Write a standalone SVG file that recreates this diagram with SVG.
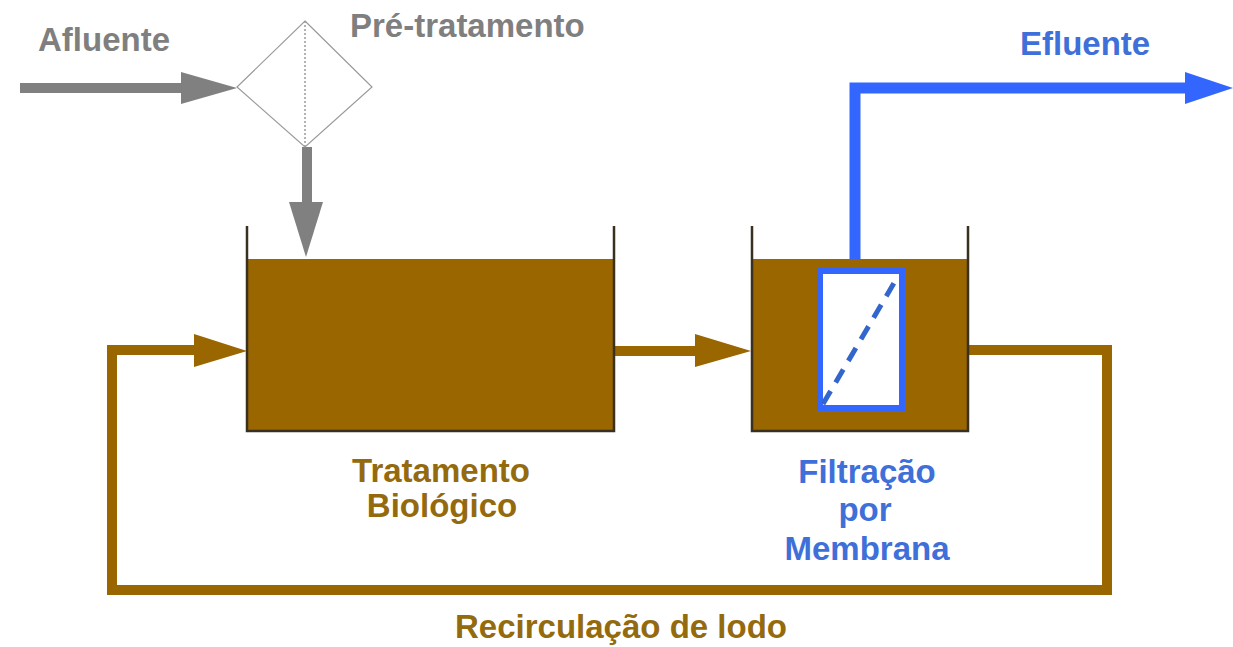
<svg xmlns="http://www.w3.org/2000/svg" width="1233" height="647" viewBox="0 0 1233 647">
<style>
.t{font-family:"Liberation Sans",Arial,sans-serif;font-weight:bold;font-size:33px}
.gray{fill:#7f7f7f}
.brown{fill:#946a0e}
.blue{fill:#3f6fd8}
.liq{fill:#996600}
.wall{fill:none;stroke:#3a3020;stroke-width:2.5}
</style>
<rect width="1233" height="647" fill="#ffffff"/>
<g id="connectors">
  <!-- Afluente -->
  <line x1="20" y1="88" x2="186" y2="88" stroke="#808080" stroke-width="10"/>
  <polygon points="181,72 237,88 181,104" fill="#808080"/>
  <!-- pre-treatment to tank -->
  <line x1="307" y1="147" x2="307" y2="206" stroke="#808080" stroke-width="10"/>
  <polygon points="289,202 323,202 306,257" fill="#808080"/>
  <!-- tank1 to tank2 -->
  <line x1="614" y1="351" x2="700" y2="351" stroke="#996600" stroke-width="10"/>
  <polygon points="695,334 751,351 695,367" fill="#996600"/>
  <!-- recirculation -->
  <polyline points="968,350 1107,350 1107,590 112,590 112,350 200,350" fill="none" stroke="#996600" stroke-width="10"/>
  <polygon points="194,334 247,351 194,367" fill="#996600"/>
  <!-- effluent pipe -->
  <polyline points="855,272 855,88 1190,88" fill="none" stroke="#3366ff" stroke-width="11"/>
  <polygon points="1185,72 1233,88 1185,104" fill="#3366ff"/>
</g>
<g id="pretratamento">
  <polygon points="305,21 372,87 305,147 237,87" fill="#ffffff" stroke="#9a9a9a" stroke-width="1.2"/>
  <line x1="305" y1="21" x2="305" y2="147" stroke="#9a9a9a" stroke-width="1.5" stroke-dasharray="2 2"/>
  <text class="t gray" x="350" y="37">Pré-tratamento</text>
</g>
<g id="afluente">
  <text class="t gray" x="38" y="51">Afluente</text>
</g>
<g id="efluente">
  <text class="t blue" x="1020" y="55">Efluente</text>
</g>
<g id="tratamento">
  <rect class="liq" x="247" y="259" width="367" height="172"/>
  <polyline class="wall" points="247,226 247,431 614,431 614,226"/>
  <text class="t brown" x="441" y="482" text-anchor="middle">Tratamento</text>
  <text class="t brown" x="442" y="517" text-anchor="middle">Biológico</text>
</g>
<g id="filtracao">
  <rect class="liq" x="752" y="259" width="216" height="172"/>
  <polyline class="wall" points="752,226 752,431 968,431 968,226"/>
  <rect x="820" y="271" width="82" height="137" fill="#ffffff" stroke="#3366ff" stroke-width="6"/>
  <line x1="823" y1="404" x2="894" y2="283" stroke="#3366cc" stroke-width="5" stroke-dasharray="15 10"/>
  <text class="t blue" x="867" y="483" text-anchor="middle">Filtração</text>
  <text class="t blue" x="865" y="521" text-anchor="middle">por</text>
  <text class="t blue" x="867" y="560" text-anchor="middle">Membrana</text>
</g>
<g id="recirculacao">
  <text class="t brown" x="621" y="638" text-anchor="middle">Recirculação de lodo</text>
</g>
</svg>
